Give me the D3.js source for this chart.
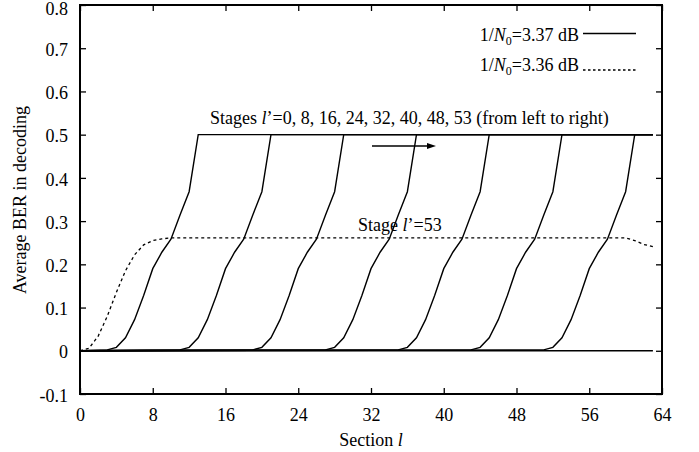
<!DOCTYPE html>
<html>
<head>
<meta charset="utf-8">
<script src="https://cdn.jsdelivr.net/npm/d3@7"></script>
<style>
  html, body { margin: 0; padding: 0; background: #fff; }
  svg text { font-family: "Liberation Serif", "Times New Roman", serif; fill: #000; }
</style>
</head>
<body>
<svg id="chart" width="699" height="452"></svg>
<script>
// ---------------- data ----------------
const xTicks = [0, 8, 16, 24, 32, 40, 48, 56, 64];
const yTicks = [-0.1, 0, 0.1, 0.2, 0.3, 0.4, 0.5, 0.6, 0.7, 0.8];
const stages = [0, 8, 16, 24, 32, 40, 48, 53];

// 1/N0 = 3.37 dB, vertices [section, BER] for each stage
const stage0  = [[0,0],[3,0.002],[4,0.008],[5,0.03],[6,0.072],[7,0.128],[8,0.19],[9,0.228],[10,0.258],[11,0.314],[12,0.368],[13,0.5],[63,0.5]];
const stage8  = [[0,0],[11,0.002],[12,0.008],[13,0.03],[14,0.072],[15,0.128],[16,0.19],[17,0.228],[18,0.258],[19,0.314],[20,0.368],[21,0.5],[63,0.5]];
const stage16 = [[0,0],[19,0.002],[20,0.008],[21,0.03],[22,0.072],[23,0.128],[24,0.19],[25,0.228],[26,0.258],[27,0.314],[28,0.368],[29,0.5],[63,0.5]];
const stage24 = [[0,0],[27,0.002],[28,0.008],[29,0.03],[30,0.072],[31,0.128],[32,0.19],[33,0.228],[34,0.258],[35,0.314],[36,0.368],[37,0.5],[63,0.5]];
const stage32 = [[0,0],[35,0.002],[36,0.008],[37,0.03],[38,0.072],[39,0.128],[40,0.19],[41,0.228],[42,0.258],[43,0.314],[44,0.368],[45,0.5],[63,0.5]];
const stage40 = [[0,0],[43,0.002],[44,0.008],[45,0.03],[46,0.072],[47,0.128],[48,0.19],[49,0.228],[50,0.258],[51,0.314],[52,0.368],[53,0.5],[63,0.5]];
const stage48 = [[0,0],[51,0.002],[52,0.008],[53,0.03],[54,0.072],[55,0.128],[56,0.19],[57,0.228],[58,0.258],[59,0.314],[60,0.368],[61,0.5],[63,0.5]];
const stage53 = [[0,0],[63,0]];

// 1/N0 = 3.36 dB, stage 53
const dashed53 = [[0,0],[1,0.006],[2,0.034],[3,0.08],[4,0.135],[5,0.185],[6,0.222],[7,0.245],[8,0.255],[9,0.259],[10,0.261],[60,0.261],[61,0.255],[62,0.246],[63,0.241]];

const solidSeries = [stage0, stage8, stage16, stage24, stage32, stage40, stage48, stage53];

// ---------------- drawing ----------------
const svg = d3.select("#chart");
const L = 80, R = 662, T = 5, B = 394;
const x = d3.scaleLinear().domain([0, 64]).range([L, R]);
const y = d3.scaleLinear().domain([-0.1, 0.8]).range([B, T]);
const FS = 18;

const line = d3.line().x(d => x(d[0])).y(d => y(d[1]));

// curves
const gCurves = svg.append("g");
solidSeries.forEach(s => {
  gCurves.append("path").attr("d", line(s))
    .attr("fill", "none").attr("stroke", "#000").attr("stroke-width", 1.4)
    .attr("stroke-linejoin", "miter");
});
gCurves.append("path").attr("d", line(dashed53))
  .attr("fill", "none").attr("stroke", "#000").attr("stroke-width", 1.3)
  .attr("stroke-dasharray", "3,3");

// axes (inward ticks)
const fmtY = d => d === 0 ? "0" : d3.format(".1f")(d).replace("\u2212", "-");
const axL = svg.append("g").attr("transform", `translate(${L},0)`)
  .call(d3.axisLeft(y).tickValues(yTicks).tickSize(-6).tickPadding(12).tickFormat(fmtY));
const axR = svg.append("g").attr("transform", `translate(${R},0)`)
  .call(d3.axisRight(y).tickValues(yTicks).tickSize(-6).tickFormat(""));
const axB = svg.append("g").attr("transform", `translate(0,${B})`)
  .call(d3.axisBottom(x).tickValues(xTicks).tickSize(-6).tickPadding(14).tickFormat(d3.format("d")));
const axT = svg.append("g").attr("transform", `translate(0,${T})`)
  .call(d3.axisTop(x).tickValues(xTicks).tickSize(-6).tickFormat(""));
[axL, axR, axB, axT].forEach(g => {
  g.select(".domain").remove();
  g.selectAll(".tick line").attr("stroke", "#000").attr("stroke-width", 1.3);
  g.selectAll("text").attr("font-size", FS).attr("font-family", "Liberation Serif");
});
axL.selectAll("text").attr("dy", d => d === 0.8 ? "0.52em" : "0.4em");
svg.append("rect").attr("x", L).attr("y", T).attr("width", R - L).attr("height", B - T)
  .attr("fill", "none").attr("stroke", "#000").attr("stroke-width", 2);

// axis titles
svg.append("text").attr("x", (L + R) / 2).attr("y", 446).attr("text-anchor", "middle")
  .attr("font-size", FS)
  .call(t => { t.append("tspan").text("Section "); t.append("tspan").attr("font-style", "italic").text("l"); });
svg.append("text").attr("transform", "translate(26,200) rotate(-90)").attr("text-anchor", "middle")
  .attr("font-size", FS).text("Average BER in decoding");

// legend
function legendLabel(yb, val) {
  const t = svg.append("text").attr("x", 579).attr("y", yb).attr("text-anchor", "end").attr("font-size", FS);
  t.append("tspan").text("1/");
  t.append("tspan").attr("font-style", "italic").text("N");
  t.append("tspan").attr("font-size", 12).attr("dy", 4).text("0");
  t.append("tspan").attr("dy", -4).text("=" + val + " dB");
}
legendLabel(41, "3.37");
legendLabel(71, "3.36");
svg.append("line").attr("x1", 583).attr("x2", 636).attr("y1", 33.5).attr("y2", 33.5)
  .attr("stroke", "#000").attr("stroke-width", 1.3);
svg.append("line").attr("x1", 583).attr("x2", 636).attr("y1", 70).attr("y2", 70)
  .attr("stroke", "#000").attr("stroke-width", 1.3).attr("stroke-dasharray", "2.5,2.5");

// annotations
const a1 = svg.append("text").attr("x", 210).attr("y", 123.5).attr("font-size", FS);
a1.append("tspan").text("Stages ");
a1.append("tspan").attr("font-style", "italic").text("l");
a1.append("tspan").text("\u2019=" + stages.join(", ") + " (from left to right)");

const a2 = svg.append("text").attr("x", 358).attr("y", 231).attr("font-size", FS);
a2.append("tspan").text("Stage ");
a2.append("tspan").attr("font-style", "italic").text("l");
a2.append("tspan").text("\u2019=" + stages[stages.length - 1]);

// arrow
svg.append("line").attr("x1", 372).attr("x2", 429).attr("y1", 146).attr("y2", 146)
  .attr("stroke", "#000").attr("stroke-width", 1.3);
svg.append("path").attr("d", "M436,146 L427,143 L427,149 Z").attr("fill", "#000");
</script>
</body>
</html>
